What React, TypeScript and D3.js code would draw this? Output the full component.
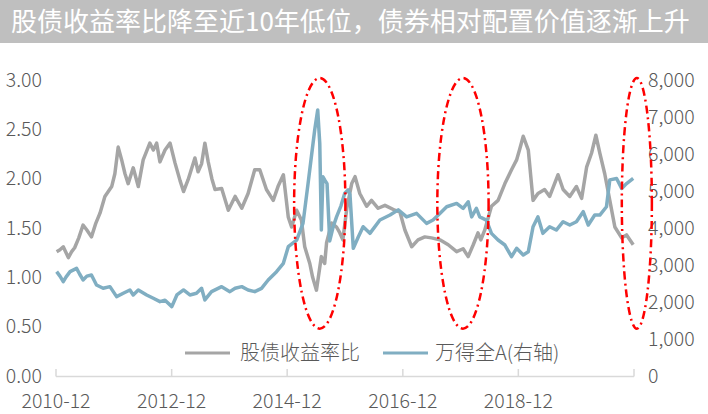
import React from 'react';
import * as d3 from 'd3';

const titleText = '股债收益率比降至近10年低位，债券相对配置价值逐渐上升';
const seriesNames = ['股债收益率比', '万得全A(右轴)'];

const ratioDates = [
  '2010-12-05','2010-12-26','2011-01-16','2011-02-17','2011-03-10','2011-03-29','2011-04-24','2011-05-21','2011-06-14','2011-07-13',
  '2011-08-10','2011-09-05','2011-10-06','2011-11-18','2011-12-08','2011-12-29','2012-01-20','2012-02-10','2012-03-01','2012-04-02',
  '2012-05-04','2012-06-04','2012-07-16','2012-08-07','2012-08-28','2012-09-18','2012-10-20','2012-11-21','2012-12-22','2013-01-23',
  '2013-02-14','2013-03-15','2013-04-27','2013-05-17','2013-06-08','2013-06-29','2013-07-20','2013-08-12','2013-09-01','2013-10-13',
  '2013-11-24','2014-01-06','2014-02-17','2014-03-29','2014-05-10','2014-06-11','2014-07-23','2014-09-04','2014-10-04','2014-11-07',
  '2014-12-08','2014-12-29','2015-01-30','2015-03-01','2015-03-22','2015-04-23','2015-05-11','2015-06-04','2015-07-05','2015-07-26',
  '2015-08-07','2015-09-08','2015-10-09','2015-10-30','2015-11-18','2015-12-13','2016-01-13','2016-02-03','2016-03-04','2016-04-16',
  '2016-05-17','2016-06-28','2016-08-10','2016-10-12','2016-11-13','2016-12-14','2017-01-26','2017-03-07','2017-04-19','2017-05-31',
  '2017-07-23','2017-09-14','2017-11-06','2017-12-17','2018-01-18','2018-02-19','2018-03-21','2018-04-08','2018-05-03','2018-06-14',
  '2018-07-26','2018-09-07','2018-10-19','2018-11-20','2018-12-10','2019-01-01','2019-02-02','2019-03-04','2019-04-04','2019-05-16',
  '2019-06-17','2019-08-09','2019-09-10','2019-10-22','2019-12-03','2020-01-05','2020-02-06','2020-03-08','2020-04-04','2020-04-29',
  '2020-05-30','2020-07-01','2020-08-02','2020-09-14','2020-10-15','2020-11-26'
];
const ratioValues = [
  1.26,1.28,1.31,1.20,1.26,1.30,1.40,1.53,1.48,1.41,
  1.55,1.65,1.82,1.92,2.05,2.32,2.19,2.05,1.95,2.11,
  1.92,2.19,2.36,2.29,2.36,2.17,2.29,2.36,2.16,1.98,
  1.87,1.99,2.21,2.07,2.15,2.36,2.17,2.00,1.89,1.90,
  1.68,1.82,1.70,1.85,2.09,2.09,1.89,1.78,1.92,2.04,
  1.61,1.51,1.68,1.58,1.31,1.14,1.00,0.87,1.21,1.14,
  1.35,1.55,1.51,1.45,1.38,1.70,1.95,2.02,1.85,1.72,
  1.78,1.70,1.73,1.68,1.66,1.48,1.31,1.38,1.41,1.40,
  1.38,1.33,1.26,1.29,1.21,1.33,1.45,1.38,1.48,1.72,
  1.78,1.95,2.09,2.19,2.30,2.43,2.29,1.78,1.85,1.89,
  1.82,2.04,1.89,1.82,1.92,1.80,2.12,2.26,2.44,2.26,
  2.05,1.78,1.51,1.40,1.43,1.33
];

const indexDates = [
  '2010-12-05','2010-12-26','2011-01-16','2011-02-03','2011-02-28','2011-04-10','2011-04-30','2011-05-21','2011-06-14','2011-07-13',
  '2011-08-14','2011-09-25','2011-11-07','2011-12-19','2012-01-30','2012-03-12','2012-04-02','2012-05-04','2012-06-26','2012-08-07',
  '2012-09-18','2012-10-20','2012-12-02','2013-01-03','2013-02-14','2013-03-26','2013-05-07','2013-06-08','2013-06-29','2013-08-10',
  '2013-10-13','2013-12-04','2014-01-06','2014-02-17','2014-03-29','2014-05-10','2014-06-22','2014-08-03','2014-09-25','2014-11-07',
  '2014-12-08','2015-01-30','2015-03-11','2015-04-12','2015-05-03','2015-05-24','2015-06-12','2015-06-25','2015-07-05','2015-07-15',
  '2015-07-26','2015-08-10','2015-08-27','2015-09-18','2015-10-09','2015-11-06','2015-11-30','2015-12-21','2016-01-02','2016-01-23',
  '2016-02-24','2016-03-25','2016-05-07','2016-07-09','2016-09-11','2016-11-02','2016-12-25','2017-02-26','2017-04-30','2017-06-10',
  '2017-07-23','2017-09-04','2017-11-06','2017-12-17','2018-01-18','2018-02-09','2018-03-11','2018-04-01','2018-05-13','2018-06-14',
  '2018-07-26','2018-09-07','2018-10-19','2018-11-20','2019-01-01','2019-02-02','2019-03-04','2019-04-04','2019-05-05','2019-06-17',
  '2019-07-29','2019-09-10','2019-10-22','2019-12-03','2020-01-15','2020-02-16','2020-03-28','2020-04-29','2020-06-10','2020-07-01',
  '2020-08-13','2020-09-14','2020-10-15','2020-11-26'
];
const indexValues = [
  2820,2700,2550,2680,2820,2910,2750,2595,2700,2730,
  2460,2370,2415,2145,2235,2325,2190,2325,2190,2100,
  2010,2050,1875,2190,2325,2190,2235,2370,2055,2280,
  2415,2280,2370,2415,2325,2280,2370,2595,2820,3045,
  3495,3675,4125,5200,5925,6650,7190,6290,3945,5385,
  5300,5200,3650,4035,4300,4600,4940,5030,4900,3450,
  3765,4035,3855,4215,4350,4490,4300,4395,4125,4215,
  4395,4575,4665,4530,4710,4300,4530,4300,4215,3855,
  3675,3540,3225,3450,3270,3360,4035,4300,3855,4035,
  3945,4170,4080,4170,4440,4080,4350,4350,4575,5300,
  5340,5070,5200,5340
];

const leftTicks = [0, 0.5, 1, 1.5, 2, 2.5, 3];
const rightTicks = [0, 1000, 2000, 3000, 4000, 5000, 6000, 7000, 8000];
const xTickDates = ['2010-12-01', '2012-12-01', '2014-12-01', '2016-12-01', '2018-12-01', '2020-12-01'];
const xTickLabels = ['2010-12', '2012-12', '2014-12', '2016-12', '2018-12', ''];

const highlightCenters = ['2015-06-25', '2017-12-16', '2020-12-19'];
const highlightHalfDays = [162, 162, 95];
const highlightSpan = [0.48, 3.02];

const FONT = "'Noto Sans CJK SC', 'Noto Sans', sans-serif";
const GRAY = '#a5a5a5';
const BLUE = '#80aec2';
const TEXT = '#595959';

export default function App() {
  React.useEffect(() => {
    document.body.style.margin = '0';
  }, []);
  const W = 708;
  const H = 414;
  const parse = d3.timeParse('%Y-%m-%d');
  const x = d3.scaleTime().domain([parse('2010-12-01')!, parse('2020-12-01')!]).range([56, 634]);
  const yL = d3.scaleLinear().domain([0, 3]).range([376, 80]);
  const yR = d3.scaleLinear().domain([0, 8000]).range([376, 80]);

  const ratio = ratioDates.map((d, i) => ({ d: parse(d)!, v: ratioValues[i] }));
  const index = indexDates.map((d, i) => ({ d: parse(d)!, v: indexValues[i] }));

  const lineL = d3.line<{ d: Date; v: number }>().x(p => x(p.d)).y(p => yL(p.v));
  const lineR = d3.line<{ d: Date; v: number }>().x(p => x(p.d)).y(p => yR(p.v));

  const fmtL = d3.format('.2f');
  const fmtR = d3.format(',');

  const ellipses = highlightCenters.map((c, i) => {
    const cd = parse(c)!;
    const cx = x(cd);
    const rx = x(d3.timeDay.offset(cd, highlightHalfDays[i])) - cx;
    const top = yL(highlightSpan[1]);
    const bottom = yL(highlightSpan[0]);
    return { cx, cy: (top + bottom) / 2, rx, ry: (bottom - top) / 2 };
  });

  return (
    <svg width={W} height={H} style={{ position: 'absolute', left: 0, top: 0, display: 'block', background: '#fff' }} fontFamily={FONT}>
      <rect x={0} y={0} width={W} height={43} fill="#bfbfbf" />
      <text x={11} y={31} fontSize={26} fill="#fff">{titleText}</text>

      {leftTicks.map(t => (
        <text key={'l' + t} x={42} y={yL(t)} dy="0.35em" textAnchor="end" fontSize={19.5} fill={TEXT} fontWeight={300}>{fmtL(t)}</text>
      ))}
      {rightTicks.map(t => (
        <text key={'r' + t} x={648} y={yR(t)} dy="0.35em" textAnchor="start" fontSize={19.5} fill={TEXT} fontWeight={300}>{fmtR(t)}</text>
      ))}

      <line x1={x.range()[0]} x2={x.range()[1]} y1={376.5} y2={376.5} stroke="#d9d9d9" strokeWidth={1.5} />
      {xTickDates.map((d, i) => {
        const px = x(parse(d)!);
        return (
          <g key={'x' + d}>
            <line x1={px} x2={px} y1={369} y2={376.5} stroke="#d9d9d9" strokeWidth={1.5} />
            <text x={px} y={408} textAnchor="middle" fontSize={19.5} fill={TEXT} fontWeight={300}>{xTickLabels[i]}</text>
          </g>
        );
      })}

      <path d={lineL(ratio)!} fill="none" stroke={GRAY} strokeWidth={3.5} strokeLinejoin="round" />
      <path d={lineR(index)!} fill="none" stroke={BLUE} strokeWidth={3.5} strokeLinejoin="round" />

      {ellipses.map((e, i) => (
        <ellipse key={'e' + i} cx={e.cx} cy={e.cy} rx={e.rx} ry={e.ry} fill="none" stroke="#ff0000" strokeWidth={2.5} strokeDasharray="8 4 2 4" />
      ))}

      <line x1={185} x2={230} y1={353} y2={353} stroke={GRAY} strokeWidth={3} />
      <text x={240} y={353} dy="0.35em" fontSize={20} fill={TEXT} fontWeight={300}>{seriesNames[0]}</text>
      <line x1={383} x2={428} y1={353} y2={353} stroke={BLUE} strokeWidth={3} />
      <text x={435} y={353} dy="0.35em" fontSize={20} fill={TEXT} fontWeight={300}>{seriesNames[1]}</text>
    </svg>
  );
}
